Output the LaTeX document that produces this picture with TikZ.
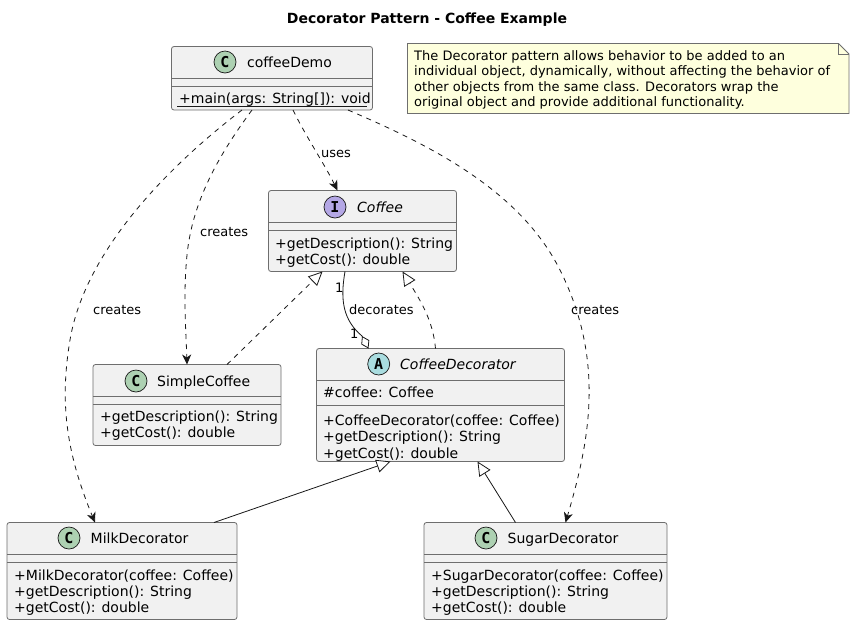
\documentclass[tikz,border=0pt]{standalone}
\usepackage{fontspec}
\setmainfont{DejaVu Sans}
\newfontfamily\spotfont{DejaVu Sans Mono}[BoldFont={DejaVu Sans Mono Bold}]
\usetikzlibrary{arrows.meta,shapes.geometric,calc}
\definecolor{boxfill}{HTML}{F1F1F1}
\definecolor{boxline}{HTML}{6E6E6E}
\definecolor{notefill}{HTML}{FEFFDD}
\definecolor{ink}{HTML}{181818}
\definecolor{spotC}{HTML}{ADD1B2}
\definecolor{spotI}{HTML}{B4A7E5}
\definecolor{spotA}{HTML}{A9DCDF}
\tikzset{
  x=1pt,y=-1pt,
  classbox/.style={draw=boxline,fill=boxfill,line width=0.8pt,rounded corners=2.5pt,anchor=north west,inner sep=0,outer sep=0},
  seprule/.style={draw=boxline,line width=0.8pt},
  member/.style={anchor=base west,inner sep=0,font=\fontsize{14}{16}\selectfont,text=black},
  cname/.style={member},
  spot/.style={circle,draw=ink,line width=0.7pt,minimum size=22pt,inner sep=0,font=\spotfont\bfseries\fontsize{15}{15}\selectfont},
  lab/.style={anchor=base west,inner sep=0,font=\fontsize{13}{15}\selectfont,text=black},
  dep/.style={draw=ink,line width=0.8pt,dash pattern=on 5pt off 5pt,-{Stealth[length=10pt,width=9pt,inset=3pt]}},
  real/.style={draw=ink,line width=0.8pt,dash pattern=on 5pt off 5pt,-{Triangle[open,length=14pt,width=13pt,fill=white]}},
  inh/.style={draw=ink,line width=0.8pt,-{Triangle[open,length=14pt,width=13pt,fill=white]}},
  agg/.style={draw=ink,line width=0.8pt,-{Diamond[open,length=14pt,width=9pt,fill=white]}},
}
\begin{document}
\begin{tikzpicture}
\useasboundingbox (0,0) rectangle (854,625);
\fill[white] (0,0) rectangle (854,625);
\node[inner sep=0,font=\bfseries\fontsize{14}{16}\selectfont,anchor=base] (title) at (427,23) {Decorator Pattern - Coffee Example};

% class boxes
\node[classbox,minimum width=201pt,minimum height=63.5pt] (demo) at (171.5,46.5) {};
\draw[seprule] (171.5,78.5) -- (372.5,78.5) (171.5,86.5) -- (372.5,86.5);
\node[spot,fill=spotC] (demoS) at (225,62) {C};
\node[cname] (demoN) at (247,67) {coffeeDemo};
\node[member] (demoM) at (179,103) {+main(args: String[]): void};
\draw[line width=0.8pt,ink] (177,106.5) -- (367,106.5);

\node[classbox,minimum width=188pt,minimum height=81pt] (coffee) at (268.5,190.5) {};
\draw[seprule] (268.5,222.5) -- (456.5,222.5) (268.5,230.5) -- (456.5,230.5);
\node[spot,fill=spotI] (coffeeS) at (335,207) {I};
\node[cname,font=\fontsize{14}{16}\selectfont\itshape] (coffeeN) at (357,212) {Coffee};
\node[member] (coffeeA) at (275,248) {+getDescription(): String};
\node[member] (coffeeB) at (275,264) {+getCost(): double};

\node[classbox,minimum width=248pt,minimum height=113pt] (deco) at (316.5,348.5) {};
\draw[seprule] (316.5,380.5) -- (564.5,380.5) (316.5,405) -- (564.5,405);
\node[spot,fill=spotA] (decoS) at (378.7,364) {A};
\node[cname,font=\fontsize{14}{16}\selectfont\itshape] (decoN) at (400,369) {CoffeeDecorator};
\node[member] (decoF) at (323,397) {\#coffee: Coffee};
\node[member] (decoA) at (323,425) {+CoffeeDecorator(coffee: Coffee)};
\node[member] (decoB) at (323,441) {+getDescription(): String};
\node[member] (decoC) at (323,458) {+getCost(): double};

\node[classbox,minimum width=188pt,minimum height=81pt] (simple) at (93,364.5) {};
\draw[seprule] (93,396.5) -- (281,396.5) (93,404.5) -- (281,404.5);
\node[spot,fill=spotC] (simpleS) at (136,381) {C};
\node[cname] (simpleN) at (157,386) {SimpleCoffee};
\node[member] (simpleA) at (100,421.5) {+getDescription(): String};
\node[member] (simpleB) at (100,437.5) {+getCost(): double};

\node[classbox,minimum width=230pt,minimum height=97pt] (milk) at (7,522.5) {};
\draw[seprule] (7,554.5) -- (237,554.5) (7,562.5) -- (237,562.5);
\node[spot,fill=spotC] (milkS) at (69,538) {C};
\node[cname] (milkN) at (90.5,543) {MilkDecorator};
\node[member] (milkA) at (14,580) {+MilkDecorator(coffee: Coffee)};
\node[member] (milkB) at (14,596) {+getDescription(): String};
\node[member] (milkC) at (14,612) {+getCost(): double};

\node[classbox,minimum width=243pt,minimum height=97pt] (sugar) at (424,522.5) {};
\draw[seprule] (424,554.5) -- (667,554.5) (424,562.5) -- (667,562.5);
\node[spot,fill=spotC] (sugarS) at (486,538) {C};
\node[cname] (sugarN) at (507.5,543) {SugarDecorator};
\node[member] (sugarA) at (431,580) {+SugarDecorator(coffee: Coffee)};
\node[member] (sugarB) at (431,596) {+getDescription(): String};
\node[member] (sugarC) at (431,612) {+getCost(): double};

% note
\draw[boxline,line width=0.8pt,fill=notefill] (407.5,43.5) -- (838.5,43.5) -- (849,54) -- (849,113.5) -- (407.5,113.5) -- cycle;
\draw[boxline,line width=0.8pt] (838.5,43.5) -- (838.5,54) -- (849,54);
\node[lab] (note1) at (414,60) {The Decorator pattern allows behavior to be added to an};
\node[lab] (note2) at (414,75) {individual object, dynamically, without affecting the behavior of};
\node[lab] (note3) at (414,91) {other objects from the same class. Decorators wrap the};
\node[lab] (note4) at (414,106) {original object and provide additional functionality.};

% connectors
\draw[dep] ([xshift=-30pt]demo.south) .. controls (170,165) and (85,250) .. (70,340) .. controls (60,400) and (65,450) .. ([xshift=-27pt]milk.north);
\draw[dep] ([xshift=-20pt]demo.south) .. controls (215,160) and (192,205) .. (187,255) .. controls (183,295) and (186,330) .. ([xshift=-0pt]simple.north);
\draw[dep] ([xshift=21pt]demo.south) .. controls (305,135) and (325,165) .. ([xshift=-25pt]coffee.north);
\draw[dep] ([xshift=76pt]demo.south) .. controls (430,145) and (520,190) .. (560,270) .. controls (605,360) and (590,440) .. ([xshift=20pt]sugar.north);
\draw[real] ([xshift=40pt]simple.north) -- ([xshift=-40pt]coffee.south);
\draw[agg] ([xshift=-17.5pt]coffee.south) .. controls (340,300) and (343,320) .. (362,336) -- ([xshift=-72pt]deco.north);
\draw[real] ([xshift=-5pt]deco.north) .. controls (433,320) and (420,300) .. ([xshift=40pt]coffee.south);
\draw[inh] ([xshift=92pt]milk.north) -- ([xshift=-50pt]deco.south);
\draw[inh] ([xshift=-30pt]sugar.north) -- ([xshift=37pt]deco.south);

% connector labels
\node[lab] (lUses) at (321,157) {uses};
\node[lab] (lC1) at (93,314) {creates};
\node[lab] (lC2) at (200,236) {creates};
\node[lab] (lC3) at (571,314) {creates};
\node[lab] (lDec) at (349,314) {decorates};
\node[lab] (lOneA) at (335,292) {1};
\node[lab] (lOneB) at (350,338) {1};
\end{tikzpicture}
\end{document}
